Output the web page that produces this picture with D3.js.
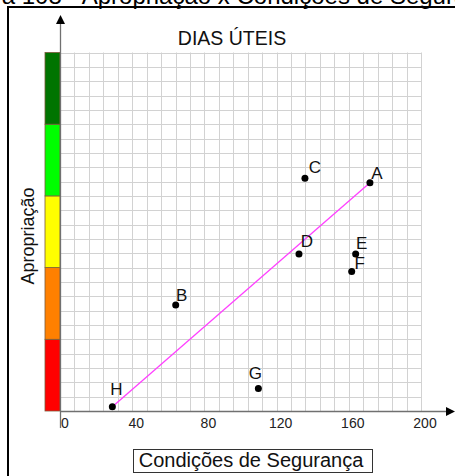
<!DOCTYPE html>
<html>
<head>
<meta charset="utf-8">
<script src="https://cdn.jsdelivr.net/npm/d3@7"></script>
<style>
  html, body { margin: 0; padding: 0; background: #fff; }
  svg { display: block; }
  text { font-family: "Liberation Sans", Arial, sans-serif; }
</style>
</head>
<body>
<svg id="chart" width="455" height="476"></svg>
<script>
// ---- data ----
const pointLabels = ["A", "B", "C", "D", "E", "F", "G", "H"];
const xValues     = [171.7, 64.1, 135.7, 132.4, 163.8, 161.6, 109.9, 29.0];
const yValues     = [63.7, 29.6, 64.9, 43.8, 43.8, 38.9, 6.3, 1.2];
const xTickLabels = [0, 40, 80, 120, 160, 200];
const bandLimits  = [0, 20, 40, 60, 80, 100];
const bandColors  = ["#ff0000", "#ff8000", "#ffff00", "#00ff00", "#007400"];
const trendFrom = "H", trendTo = "A";
const chartTitle = "DIAS ÚTEIS";
const pageTitle = "Figura 108 - Apropriação x Condições de Segurança";
const xAxisTitle = "Condições de Segurança";
const yAxisTitle = "Apropriação";

// ---- layout ----
const svg = d3.select("#chart");
const x0 = 60, x1 = 421, yTop = 52.5, yBot = 411;
const x = d3.scaleLinear().domain([0, 200]).range([x0, x1]);
const y = d3.scaleLinear().domain([0, 100]).range([yBot, yTop]);

// page title (clipped at top, as in the source)
svg.append("text").attr("x", 506).attr("y", 4)
  .attr("text-anchor", "end").attr("font-size", 24).attr("fill", "#000")
  .text(pageTitle);

// frame
svg.append("line").attr("x1", 8).attr("x2", 8).attr("y1", 7).attr("y2", 476)
  .attr("stroke", "#000").attr("stroke-width", 2);
svg.append("line").attr("x1", 7).attr("x2", 455).attr("y1", 7).attr("y2", 7)
  .attr("stroke", "#000").attr("stroke-width", 2);

// grid
const gridX = d3.range(0, 201, 8);
const gridY = d3.range(0, 100.01, 4);
const grid = svg.append("g").attr("stroke", "#d2d2d2").attr("stroke-width", 1);
grid.selectAll(".gx").data(gridX).join("line")
  .attr("x1", d => Math.round(x(d)) + 0.5).attr("x2", d => Math.round(x(d)) + 0.5)
  .attr("y1", yTop).attr("y2", yBot);
grid.selectAll(".gy").data(gridY).join("line")
  .attr("y1", d => Math.round(y(d)) + 0.5).attr("y2", d => Math.round(y(d)) + 0.5)
  .attr("x1", x0).attr("x2", x1);

// colour bands
const bands = d3.range(bandColors.length).map(i => ({lo: bandLimits[i], hi: bandLimits[i + 1], c: bandColors[i]}));
svg.append("g").selectAll("rect").data(bands).join("rect")
  .attr("x", 45).attr("width", 15)
  .attr("y", d => y(d.hi)).attr("height", d => y(d.lo) - y(d.hi))
  .attr("fill", d => d.c).attr("stroke", "#7a5a3a").attr("stroke-width", 0.8);

// axes lines
svg.append("line").attr("x1", 60.5).attr("x2", 60.5).attr("y1", 22).attr("y2", 428)
  .attr("stroke", "#707070").attr("stroke-width", 1.3);
svg.append("path").attr("d", "M60.5,15 L56,24 L65,24 Z").attr("fill", "#000");
svg.append("line").attr("x1", 60).attr("x2", 447).attr("y1", 411.5).attr("y2", 411.5)
  .attr("stroke", "#707070").attr("stroke-width", 1.3);
svg.append("path").attr("d", "M455,411.5 L446,407 L446,416 Z").attr("fill", "#000");

// x tick labels
svg.append("g").selectAll("text").data(xTickLabels).join("text")
  .attr("x", d => x(d) + (d === 0 ? 5 : 4)).attr("y", 428)
  .attr("text-anchor", "middle").attr("font-size", 14).attr("fill", "#222")
  .text(d => d);

// chart title
svg.append("text").attr("x", 232).attr("y", 45).attr("text-anchor", "middle")
  .attr("font-size", 19.5).attr("fill", "#111").text(chartTitle);

// y axis title
svg.append("text").attr("transform", "translate(34,236) rotate(-90)")
  .attr("text-anchor", "middle").attr("font-size", 18).attr("fill", "#111")
  .text(yAxisTitle);

// x axis title box
svg.append("rect").attr("x", 133.5).attr("y", 449.5).attr("width", 239).attr("height", 23)
  .attr("fill", "#fff").attr("stroke", "#333").attr("stroke-width", 1);
svg.append("text").attr("x", 251).attr("y", 467).attr("text-anchor", "middle")
  .attr("font-size", 20).attr("fill", "#111").text(xAxisTitle);

// trend line
const pts = pointLabels.map((l, i) => ({l, xv: xValues[i], yv: yValues[i]}));
const pA = pts.find(p => p.l === trendFrom), pB = pts.find(p => p.l === trendTo);
svg.append("line")
  .attr("x1", x(pA.xv)).attr("y1", y(pA.yv)).attr("x2", x(pB.xv)).attr("y2", y(pB.yv))
  .attr("stroke", "#ff40ff").attr("stroke-width", 1.3);

// points
const labelOff = {A: [7, -10], B: [6, -10], C: [10, -11], D: [8, -13], E: [6, -11], F: [8, -9], G: [-3, -15], H: [4, -18]};
svg.append("g").selectAll("circle").data(pts).join("circle")
  .attr("cx", d => x(d.xv)).attr("cy", d => y(d.yv)).attr("r", 3.5).attr("fill", "#000");
svg.append("g").selectAll("text").data(pts).join("text")
  .attr("x", d => x(d.xv) + labelOff[d.l][0]).attr("y", d => y(d.yv) + labelOff[d.l][1] + 6)
  .attr("text-anchor", "middle").attr("font-size", 17).attr("fill", "#111")
  .text(d => d.l);
</script>
</body>
</html>
